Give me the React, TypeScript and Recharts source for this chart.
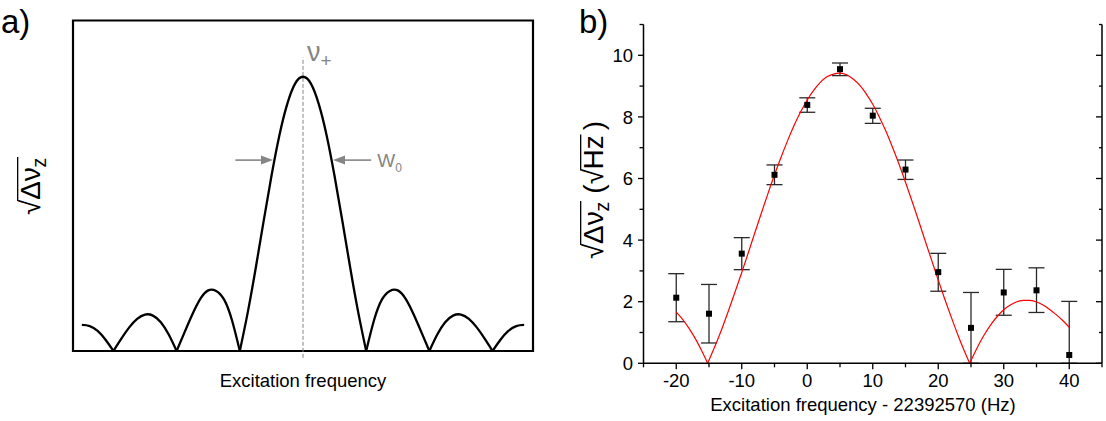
import React from "react"
import { LineChart, Line, XAxis, YAxis, ReferenceLine, ReferenceArea, ComposedChart, Scatter, ErrorBar } from "recharts"

const FONT = '"Liberation Sans", Arial, Helvetica, sans-serif'
const GRAY = "#858585"

// panel a) — schematic line shape, x in units of the lobe spacing, y relative to peak
const schemeX = [
  -3.5, -3.375, -3.25, -3.125, -3, -2.875, -2.75, -2.625, -2.5, -2.375, -2.25, -2.125, -2,
  -1.875, -1.75, -1.625, -1.5, -1.375, -1.25, -1.125, -1, -0.875, -0.75, -0.625, -0.5, -0.375,
  -0.25, -0.125, 0, 0.125, 0.25, 0.375, 0.5, 0.625, 0.75, 0.875, 1, 1.125, 1.25, 1.375, 1.5,
  1.625, 1.75, 1.875, 2, 2.125, 2.25, 2.375, 2.5, 2.625, 2.75, 2.875, 3, 3.125, 3.25, 3.375, 3.5,
]
const schemeY = [
  0.095, 0.091, 0.073, 0.041, 0, 0.045, 0.086, 0.117, 0.133, 0.129, 0.105, 0.06, 0,
  0.068, 0.134, 0.19, 0.221, 0.219, 0.188, 0.113, 0, 0.14, 0.3, 0.471, 0.637, 0.785,
  0.9, 0.975, 1, 0.975, 0.9, 0.785, 0.637, 0.471, 0.3, 0.14, 0, 0.113, 0.188, 0.219, 0.221,
  0.19, 0.134, 0.068, 0, 0.06, 0.105, 0.129, 0.133, 0.117, 0.086, 0.045, 0, 0.041, 0.073, 0.091, 0.095,
]

// panel b) — measured points
const pointX = [-20, -15, -10, -5, 0, 5, 10, 15, 20, 25, 30, 35, 40]
const pointY = [2.13, 1.61, 3.56, 6.12, 8.39, 9.55, 8.04, 6.29, 2.96, 1.15, 2.3, 2.37, 0.27]
const errTop = [2.91, 2.56, 4.08, 6.44, 8.62, 9.75, 8.28, 6.6, 3.57, 2.3, 3.05, 3.1, 2.01]
const errBottom = [1.35, 0.66, 3.04, 5.8, 8.15, 9.34, 7.79, 5.97, 2.34, 0, 1.56, 1.65, 0]

// panel b) — fit curve
const fitX = [
  -20, -19, -18, -17, -16, -15.2, -15, -14, -13, -12, -11, -10, -9, -8, -7, -6, -5, -4, -3, -2, -1,
  0, 1, 2, 3, 4, 5, 6, 7, 8, 9, 10, 11, 12, 13, 14, 15, 16, 17, 18, 19, 20, 21, 22, 23, 24, 24.8,
  25, 26, 27, 28, 29, 30, 31, 32, 33, 34, 35, 36, 37, 38, 39, 40,
]
const fitY = [
  1.66, 1.42, 1.12, 0.77, 0.36, 0, 0.1, 0.6, 1.14, 1.72, 2.33, 2.95, 3.59, 4.24, 4.88, 5.51, 6.12,
  6.69, 7.23, 7.73, 8.17, 8.55, 8.87, 9.12, 9.3, 9.39, 9.42, 9.37, 9.23, 9.03, 8.75, 8.41, 8.0,
  7.54, 7.02, 6.47, 5.88, 5.26, 4.63, 3.98, 3.34, 2.7, 2.08, 1.49, 0.92, 0.39, 0,
  0.09, 0.53, 0.92, 1.25, 1.52, 1.74, 1.89, 2.0, 2.04, 2.04, 1.99, 1.89, 1.75, 1.58, 1.39, 1.17,
]

const xTicksB = [-25, -20, -15, -10, -5, 0, 5, 10, 15, 20, 25, 30, 35, 40, 45]
const yTicksB = [0, 1, 2, 3, 4, 5, 6, 7, 8, 9, 10, 11]

// split a |sinc|-like curve at its zeros so each lobe keeps a sharp cusp
function lobes(xs: number[], ys: number[]) {
  const out: { x: number; y: number }[][] = []
  let cur: { x: number; y: number }[] = []
  xs.forEach((x, i) => {
    cur.push({ x, y: ys[i] })
    if (ys[i] === 0 && cur.length > 1) {
      out.push(cur)
      cur = [{ x, y: 0 }]
    }
  })
  if (cur.length > 1) out.push(cur)
  return out
}

const schemeLobes = lobes(schemeX, schemeY)
const fitLobes = lobes(fitX, fitY)
const points = pointX.map((x, i) => ({
  x,
  y: pointY[i],
  err: [pointY[i] - errBottom[i], errTop[i] - pointY[i]],
}))

const TICK_FONT = 18.5

const BottomTick = (props: any) => {
  const { x, y, payload } = props
  const v = payload.value
  const major = v % 10 === 0
  return (
    <g>
      <line x1={x} x2={x} y1={y} y2={y + (major ? 6 : 4)} stroke="#000" strokeWidth={1.3} />
      {major && (
        <text x={x} y={y + 24} textAnchor="middle" fontSize={TICK_FONT} fontFamily={FONT} fill="#000">
          {v}
        </text>
      )}
    </g>
  )
}

const TopTick = (props: any) => {
  const { x, y, payload } = props
  const major = payload.value % 10 === 0
  return <line x1={x} x2={x} y1={y} y2={y + (major ? 6.5 : 3.7)} stroke="#000" strokeWidth={1.3} />
}

const LeftTick = (props: any) => {
  const { x, y, payload } = props
  const v = payload.value
  const major = v % 2 === 0
  return (
    <g>
      <line x1={x} x2={x - (major ? 5.5 : 4)} y1={y} y2={y} stroke="#000" strokeWidth={1.3} />
      {major && (
        <text x={x - 10.5} y={y + 6.6} textAnchor="end" fontSize={TICK_FONT} fontFamily={FONT} fill="#000">
          {v}
        </text>
      )}
    </g>
  )
}

const RightTick = (props: any) => {
  const { x, y, payload } = props
  const major = payload.value % 2 === 0
  return <line x1={x} x2={x - (major ? 6 : 3)} y1={y} y2={y} stroke="#000" strokeWidth={1.3} />
}

const ArrowShape = (label?: boolean) => (p: any) => {
  const { x1, y1, x2, y2 } = p
  const dir = x2 > x1 ? 1 : -1
  return (
    <g>
      <line x1={x1} y1={y1} x2={x2 - dir * 9} y2={y2} stroke={GRAY} strokeWidth={1.6} />
      <polygon points={`${x2},${y2} ${x2 - dir * 12},${y2 - 4.5} ${x2 - dir * 12},${y2 + 4.5}`} fill={GRAY} />
      {label && (
        <text x={x1 + 6} y={y1 + 7} fontFamily={FONT} fontSize={19} fill={GRAY}>
          W
          <tspan fontSize={12} dy={5}>
            0
          </tspan>
        </text>
      )}
    </g>
  )
}

const CenterShape = (p: any) => {
  const { x1, y1, x2, y2 } = p
  const top = Math.min(y1, y2)
  return (
    <g>
      <line x1={x1} y1={y1} x2={x2} y2={y2} stroke={GRAY} strokeWidth={1} strokeDasharray="4 2" />
      <text x={x1 + 4} y={top + 3} fontFamily={FONT} fontSize={27} fill={GRAY}>
        ν
        <tspan fontSize={19} dy={6}>
          +
        </tspan>
      </text>
    </g>
  )
}

// rotated "√Δν_z" axis title, with an optional "(√Hz)" unit; radical bars drawn as lines
function RootLabel({ cx, cy, unit, s }: { cx: number; cy: number; unit?: boolean; s: number }) {
  const total = unit ? 4.93 : 2.07
  const o = -(total * s) / 2
  const base = 0.36 * s
  const bar = base - 0.8 * s
  const at = (em: number) => o + em * s
  return (
    <g transform={`translate(${cx} ${cy}) rotate(-90)`} fontFamily={FONT} fontSize={s} fill="#000">
      <text x={at(0)} y={base}>√</text>
      <text x={at(0.54)} y={base}>Δν</text>
      <text x={at(1.7)} y={base + 0.22 * s} fontSize={0.7 * s}>z</text>
      <line x1={at(0.5)} x2={at(2.07)} y1={bar} y2={bar} stroke="#000" strokeWidth={1.3} />
      {unit && (
        <>
          <text x={at(2.33)} y={base}>(</text>
          <text x={at(2.67)} y={base}>√</text>
          <text x={at(3.2)} y={base}>Hz</text>
          <line x1={at(3.16)} x2={at(4.45)} y1={bar} y2={bar} stroke="#000" strokeWidth={1.3} />
          <text x={at(4.6)} y={base}>)</text>
        </>
      )}
    </g>
  )
}

function PanelA() {
  return (
    <LineChart width={560} height={421} margin={{ top: 20.5, right: 27, bottom: 70, left: 73 }}>
      <XAxis type="number" dataKey="x" domain={[-3.64, 3.64]} hide allowDataOverflow />
      <YAxis type="number" domain={[0, 1.205]} hide allowDataOverflow />
      <ReferenceArea x1={-3.64} x2={3.64} y1={0} y2={1.205} fill="none" stroke="#000" strokeWidth={2.2} ifOverflow="visible" />
      <ReferenceLine segment={[{ x: 0, y: -0.025 }, { x: 0, y: 1.07 }]} ifOverflow="visible" shape={CenterShape} />
      <ReferenceLine segment={[{ x: -1.07, y: 0.696 }, { x: -0.475, y: 0.696 }]} ifOverflow="visible" shape={ArrowShape(false)} />
      <ReferenceLine segment={[{ x: 1.08, y: 0.696 }, { x: 0.475, y: 0.696 }]} ifOverflow="visible" shape={ArrowShape(true)} />
      {schemeLobes.map((seg, i) => (
        <Line
          key={i}
          data={seg}
          dataKey="y"
          type="natural"
          stroke="#000"
          strokeWidth={2.3}
          dot={false}
          isAnimationActive={false}
        />
      ))}
    </LineChart>
  )
}

function PanelB() {
  return (
    <ComposedChart width={546} height={421} margin={{ top: 24.5, right: 0, bottom: 0, left: 0 }}>
      <XAxis
        type="number"
        dataKey="x"
        domain={[-25, 45]}
        ticks={xTicksB}
        interval={0}
        height={57.7}
        tickSize={0}
        tickMargin={0}
        tick={BottomTick}
        axisLine={{ stroke: "#000", strokeWidth: 1.5 }}
        allowDataOverflow
      />
      <XAxis
        xAxisId="top"
        orientation="top"
        type="number"
        domain={[-25, 45]}
        ticks={xTicksB}
        interval={0}
        height={0}
        tickSize={0}
        tickMargin={0}
        tick={TopTick}
        axisLine={{ stroke: "#000", strokeWidth: 1.5 }}
        allowDataOverflow
      />
      <YAxis
        type="number"
        domain={[0, 11]}
        ticks={yTicksB}
        interval={0}
        width={83.5}
        tickSize={0}
        tickMargin={0}
        tick={LeftTick}
        axisLine={{ stroke: "#000", strokeWidth: 1.5 }}
        allowDataOverflow
      />
      <YAxis
        yAxisId="right"
        orientation="right"
        type="number"
        domain={[0, 11]}
        ticks={yTicksB}
        interval={0}
        width={4}
        tickSize={0}
        tickMargin={0}
        tick={RightTick}
        axisLine={{ stroke: "#000", strokeWidth: 1.5 }}
        allowDataOverflow
      />
      <Scatter
        data={points}
        dataKey="y"
        isAnimationActive={false}
        shape={(p: any) => <rect x={p.cx - 3} y={p.cy - 3} width={6} height={6} fill="#000" />}
      >
        <ErrorBar dataKey="err" direction="y" width={8} stroke="#2a2a2a" strokeWidth={1.3} isAnimationActive={false} />
      </Scatter>
      {fitLobes.map((seg, i) => (
        <Line
          key={i}
          data={seg}
          dataKey="y"
          type="natural"
          stroke="#ff0000"
          strokeWidth={1.2}
          dot={false}
          isAnimationActive={false}
        />
      ))}
    </ComposedChart>
  )
}

export default function App() {
  return (
    <div style={{ position: "absolute", left: 0, top: 0, width: 1106, height: 421, background: "#fff", fontFamily: FONT }}>
      <div style={{ position: "absolute", left: 0, top: 0 }}>
        <PanelA />
      </div>
      <div style={{ position: "absolute", left: 560, top: 0 }}>
        <PanelB />
      </div>
      <svg width={1106} height={421} style={{ position: "absolute", left: 0, top: 0, pointerEvents: "none" }}>
        <g fontFamily={FONT} fill="#000">
          <text x={1} y={33} fontSize={33}>a)</text>
          <text x={579} y={33} fontSize={33}>b)</text>
          <text x={303} y={387} fontSize={18.5} textAnchor="middle">Excitation frequency</text>
          <text x={863} y={410.7} fontSize={18.5} textAnchor="middle">Excitation frequency - 22392570 (Hz)</text>
        </g>
        <RootLabel cx={30} cy={186} s={28} />
        <RootLabel cx={593} cy={190} s={28} unit />
      </svg>
    </div>
  )
}
